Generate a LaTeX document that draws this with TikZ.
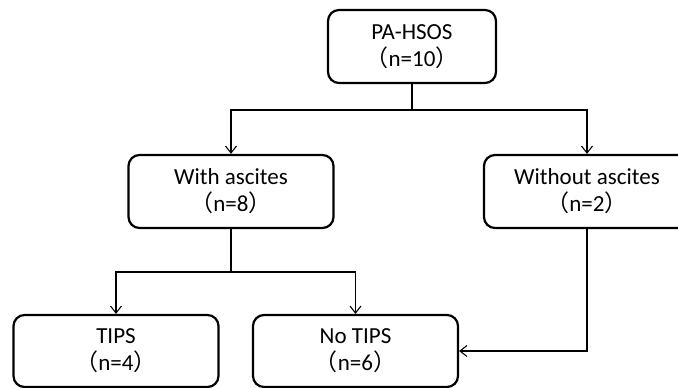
\documentclass[tikz,border=0pt]{standalone}
\usepackage{fontspec}
\setmainfont{Carlito}
\newfontfamily\cjkfont{Noto Sans CJK SC}
\usetikzlibrary{arrows.meta}
\newcommand{\lp}{{\cjkfont （}}
\newcommand{\rp}{{\cjkfont ）}}
\begin{document}
\begin{tikzpicture}[x=1pt,y=-1pt,
  box/.style={draw,line width=2.2pt,rounded corners=11pt,minimum height=73pt,
    align=center,font=\fontsize{23}{27}\selectfont,inner sep=0pt},
  conn/.style={line width=1.1pt},
  arr/.style={conn,-{Straight Barb[length=7pt,width=11pt,line width=1.1pt]}}]
\useasboundingbox (0,0) rectangle (678,388);
\node[box,minimum width=168pt] (pa) at (412,46.5) {PA-HSOS\\\lp n=10\rp};
\node[box,minimum width=205pt] (with) at (231,191.5) {With ascites\\\lp n=8\rp};
\node[box,minimum width=206pt] (without) at (587,191.5) {Without ascites\\\lp n=2\rp};
\node[box,minimum width=205pt,minimum height=72pt] (tips) at (116,351) {TIPS\\\lp n=4\rp};
\node[box,minimum width=205pt,minimum height=72pt] (notips) at (355.5,351) {No TIPS\\\lp n=6\rp};
\coordinate (b1) at (412,110);
\coordinate (b2) at (231,272);
\draw[conn] (pa.south) -- (b1);
\draw[arr] (b1) -| (with.north);
\draw[arr] (b1) -| (without.north);
\draw[conn] (with.south) -- (b2);
\draw[arr] (b2) -| (tips.north);
\draw[arr] (b2) -| (notips.north);
\draw[arr] (without.south) |- (notips.east);
\end{tikzpicture}
\end{document}
